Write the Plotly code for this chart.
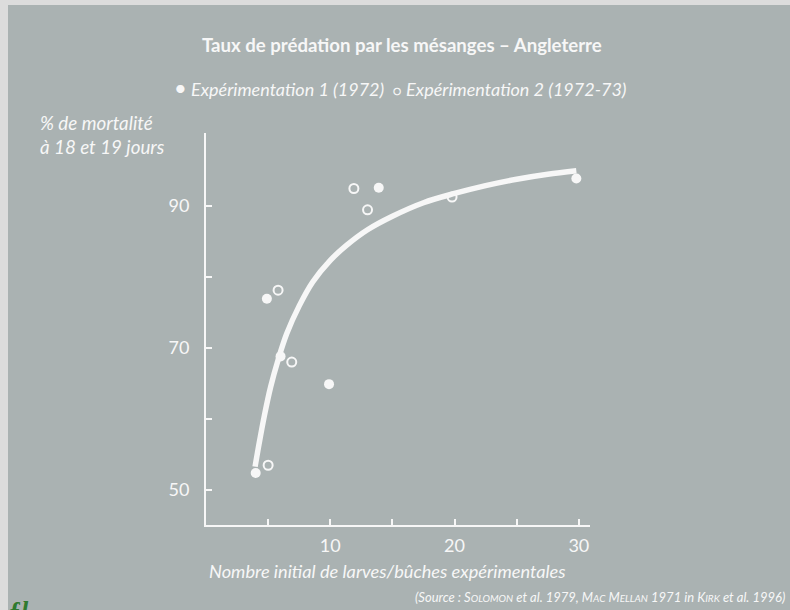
import plotly.graph_objects as go

# Data
exp1_x = [4.0, 4.9, 6.0, 9.9, 13.9, 29.8]
exp1_y = [52.4, 76.9, 68.8, 64.9, 92.5, 93.8]

exp2_x = [5.0, 5.8, 6.9, 11.9, 13.0, 19.8]
exp2_y = [53.5, 78.1, 68.0, 92.4, 89.4, 91.2]

# fitted curve, points
curve_x = [3.95, 4.3, 4.7, 5.2, 5.8, 6.5, 7.5, 8.6, 10.0, 11.3, 13.0, 15.0, 17.5, 20.0, 22.5, 25.0, 27.5, 29.8]
curve_y = [53.3, 56.8, 60.5, 64.5, 68.3, 72.0, 75.9, 79.3, 82.3, 84.4, 86.6, 88.5, 90.4, 91.7, 92.8, 93.7, 94.4, 94.9]

x_tickvals = [5, 10, 15, 20, 25, 30]
x_ticktext = ["", "10", "", "20", "", "30"]
y_tickvals = [50, 60, 70, 80, 90]
y_ticktext = ["50", "", "70", "", "90"]

BG = "#aab2b2"
FG = "#f7f7f7"
FONT = "Lato"

fig = go.Figure()
fig.add_trace(go.Scatter(x=curve_x, y=curve_y, mode="lines",
                         line=dict(color=FG, width=5.5, shape="spline", smoothing=1.0),
                         showlegend=False, hoverinfo="skip"))
fig.add_trace(go.Scatter(x=exp1_x, y=exp1_y, mode="markers", name="Expérimentation 1 (1972)",
                         marker=dict(symbol="circle", size=10, color=FG), showlegend=False))
fig.add_trace(go.Scatter(x=exp2_x, y=exp2_y, mode="markers", name="Expérimentation 2 (1972-73)",
                         marker=dict(symbol="circle-open", size=9, color=FG, line=dict(width=2, color=FG)),
                         showlegend=False))

L, R, T, B = 206, 200, 133, 85
W, H = 790, 610
pw, ph = W - L - R, H - T - B

def px(xp):
    return (xp - L) / pw

def py(yp):
    return (H - B - yp) / ph

fig.update_layout(
    width=W, height=H,
    margin=dict(l=L, r=R, t=T, b=B, pad=0),
    paper_bgcolor=BG, plot_bgcolor="rgba(0,0,0,0)",
    font=dict(family=FONT, color=FG, size=15),
    xaxis=dict(range=[0, 30.9], showgrid=False, zeroline=False, showline=True,
               linecolor=FG, linewidth=2, ticks="inside", ticklen=6, tickwidth=1.5,
               tickcolor=FG, tickvals=x_tickvals, ticktext=x_ticktext,
               tickfont=dict(size=18, color=FG, family=FONT), ticklabelstandoff=3),
    yaxis=dict(range=[45.1, 100.2], showgrid=False, zeroline=False, showline=True,
               linecolor=FG, linewidth=2, ticks="inside", ticklen=6, tickwidth=1.5,
               tickcolor=FG, tickvals=y_tickvals, ticktext=y_ticktext,
               tickfont=dict(size=18, color=FG, family=FONT), ticklabelstandoff=11),
    showlegend=False,
)

# light border strips (left and top)
fig.add_shape(type="rect", xref="paper", yref="paper", x0=px(0), x1=px(8), y0=py(610), y1=py(0),
              fillcolor="#dcdcdc", line_width=0, layer="below")
fig.add_shape(type="rect", xref="paper", yref="paper", x0=px(0), x1=px(790), y0=py(5), y1=py(0),
              fillcolor="#dcdcdc", line_width=0, layer="below")

ann = [
    dict(text="<b>Taux de prédation par les mésanges – Angleterre</b>", x=px(402), y=py(45),
         font=dict(size=18.6, family=FONT, color=FG)),
    dict(text="<i><span style='font-size:22px'>•</span> Expérimentation 1 (1972)  "
              "<span style='font-size:14px'>○</span> Expérimentation 2 (1972-73)</i>", x=px(400), y=py(87),
         font=dict(size=18, family=FONT, color=FG)),
    dict(text="<i>% de mortalité<br>à 18 et 19 jours</i>", x=px(38), y=py(135), xanchor="left",
         align="left", font=dict(size=18.8, family=FONT, color=FG)),
    dict(text="<i>Nombre initial de larves/bûches expérimentales</i>", x=px(207), y=py(571), xanchor="left",
         font=dict(size=18.2, family=FONT, color=FG)),
    dict(text="<i>(Source : S<span style='font-size:10px'>OLOMON</span> et al. 1979, "
              "M<span style='font-size:10px'>AC</span> M<span style='font-size:10px'>ELLAN</span> 1971 in "
              "K<span style='font-size:10px'>IRK</span> et al. 1996)</i>", x=px(787), y=py(597), xanchor="right",
         font=dict(size=13, family=FONT, color=FG)),
    dict(text="<b><i>ƒl</i></b>", x=px(6), y=py(594), xanchor="left", yanchor="top",
         font=dict(size=26, family="Liberation Serif", color="#2f7a2f")),
]
for a in ann:
    a.setdefault("xanchor", "center")
    a.setdefault("yanchor", "middle")
    fig.add_annotation(xref="paper", yref="paper", showarrow=False, **a)

fig.write_html("out.html", config={"displayModeBar": False},
               post_script="document.body.style.margin='0';document.body.style.overflow='hidden';")
